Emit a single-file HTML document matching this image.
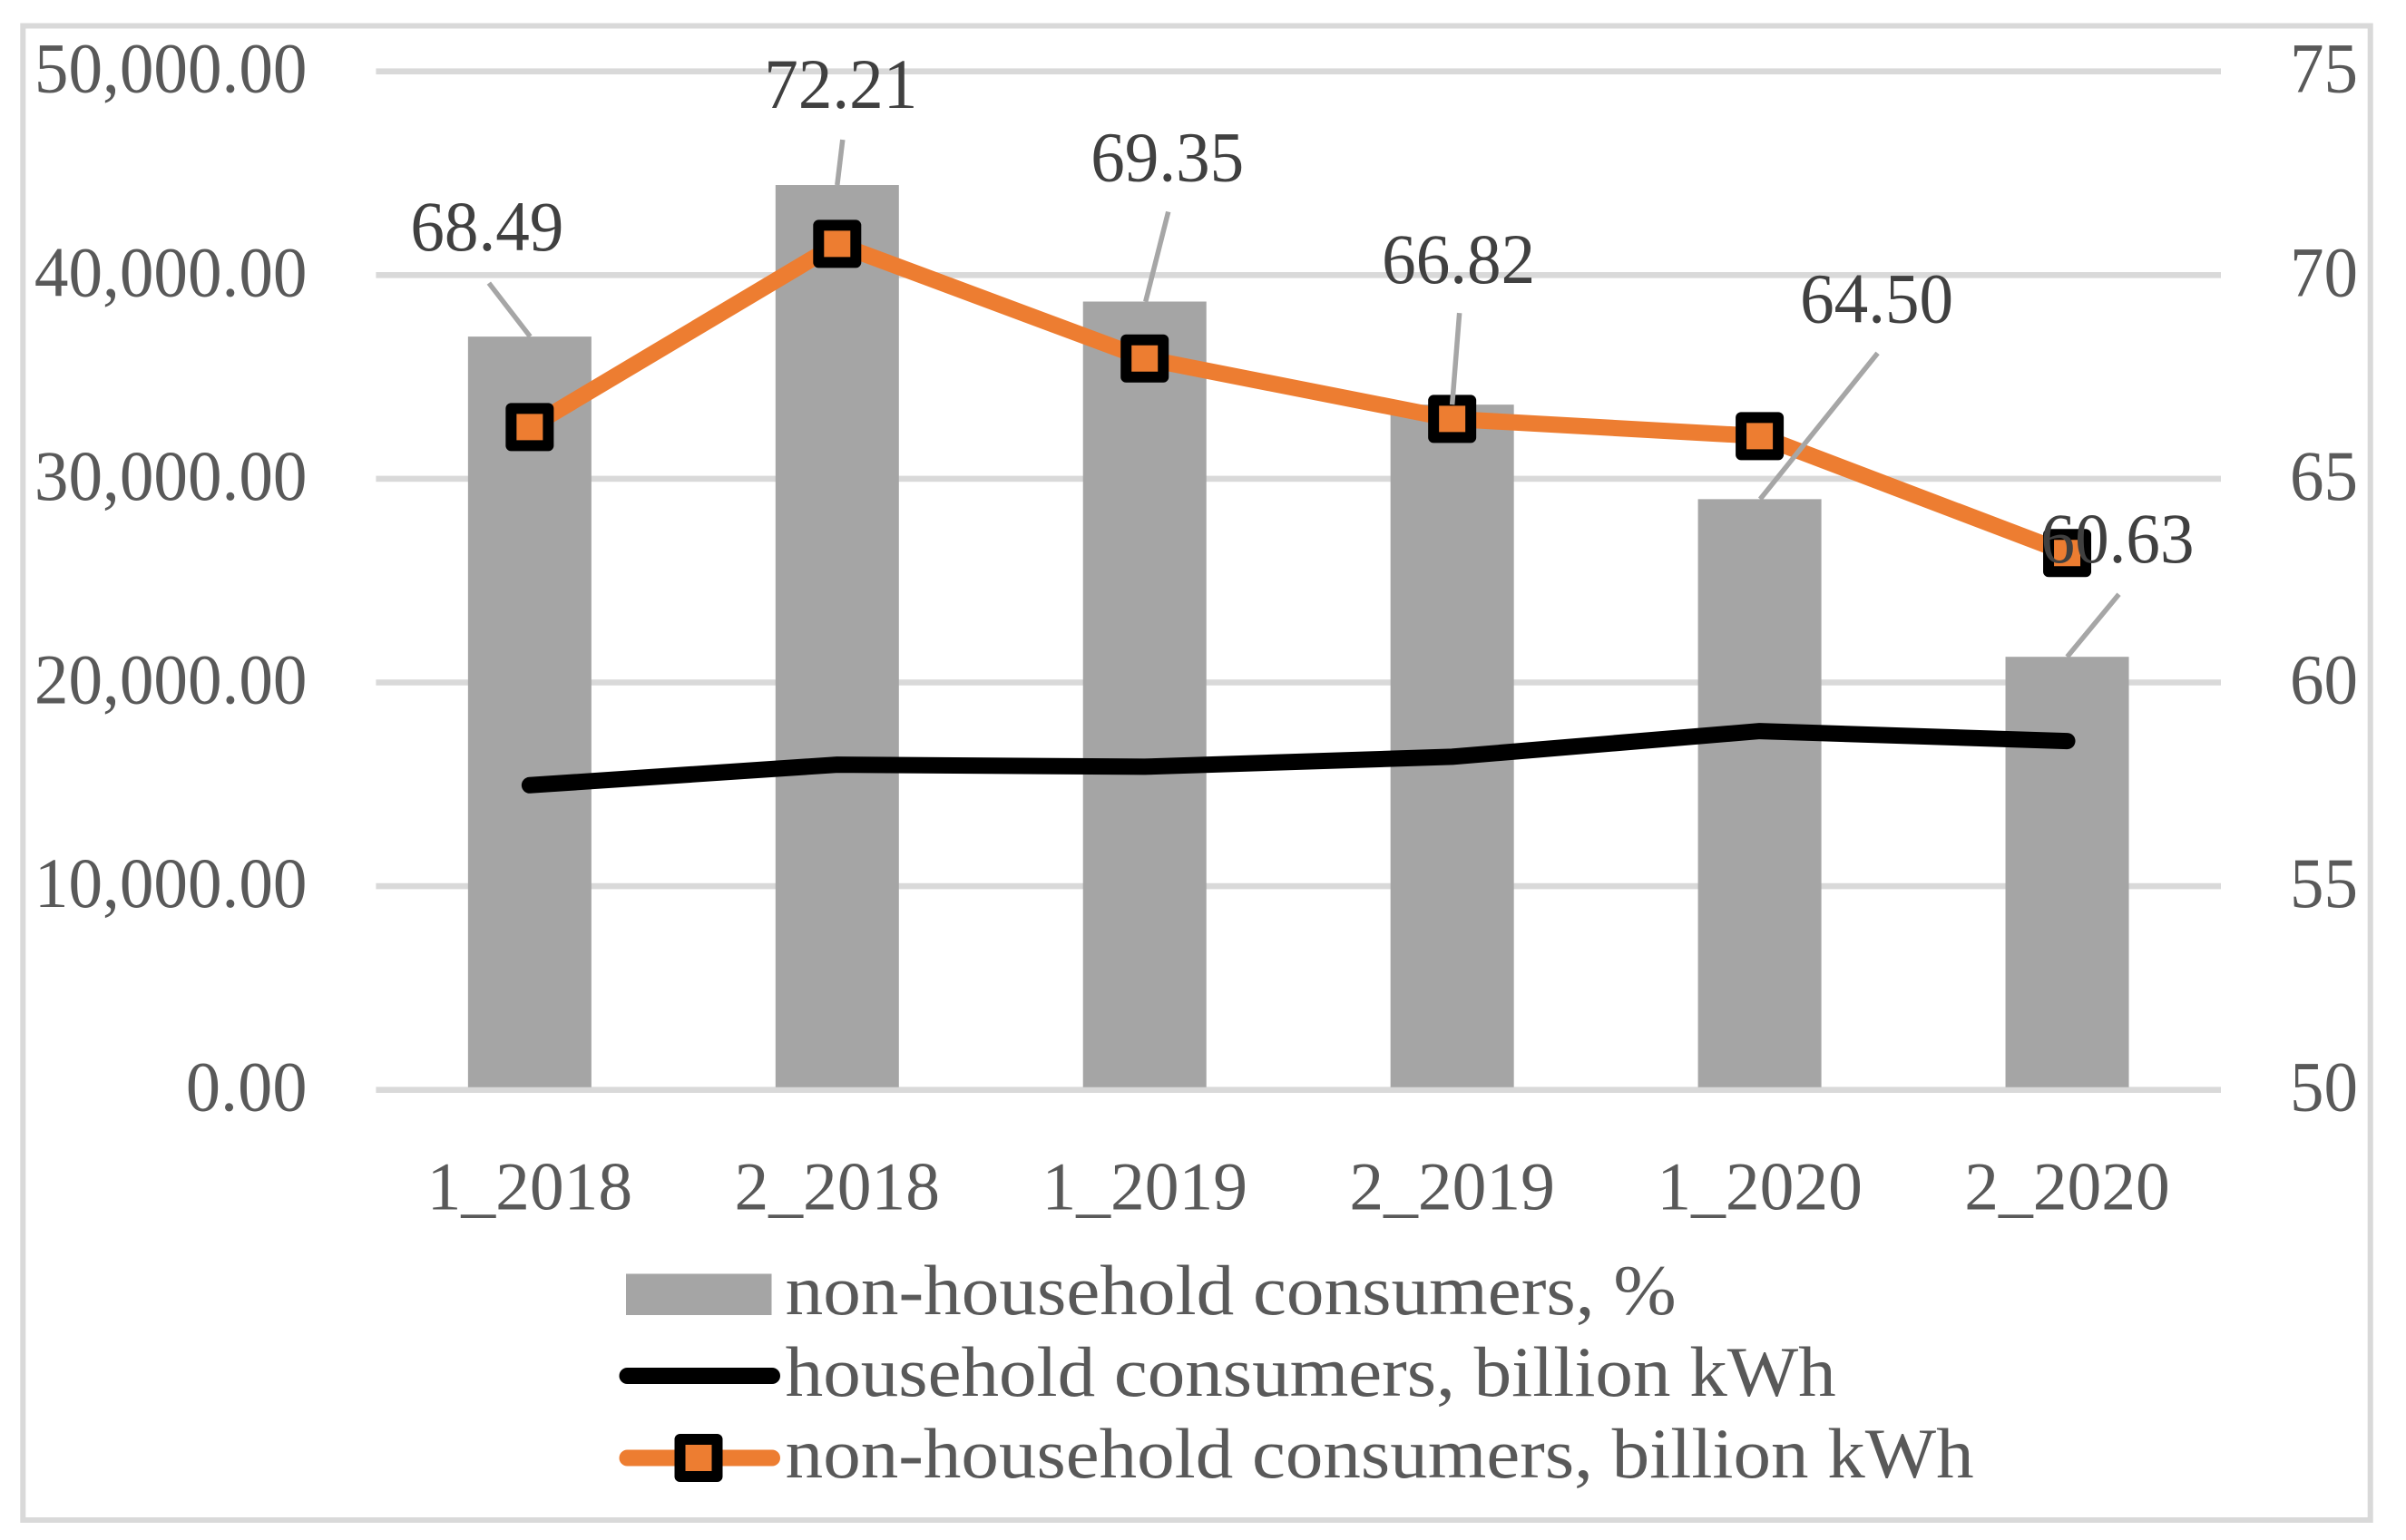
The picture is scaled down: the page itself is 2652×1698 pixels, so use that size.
<!DOCTYPE html>
<html lang="en">
<head>
<meta charset="utf-8">
<title>Electricity consumption chart</title>
<style>
html,body{margin:0;padding:0;background:#fff;}
svg{display:block;}
text{font-family:"Liberation Serif",serif;}
</style>
</head>
<body>
<svg id="chart" xmlns="http://www.w3.org/2000/svg" width="2652" height="1698" viewBox="0 0 2652 1698">
  <rect x="0" y="0" width="2652" height="1698" fill="#ffffff"/>
  <rect x="25.3" y="28.5" width="2587.4" height="1647.5" fill="#ffffff" stroke="#d9d9d9" stroke-width="6"/>
  <g id="grid"></g>
  <g id="bars"></g>
  <g id="lines"></g>
  <g id="markers"></g>
  <g id="leaders"></g>
  <g id="labels"></g>
  <g id="axes"></g>
  <g>
    <g>
      <rect x="690" y="1404.5" width="160.5" height="45.5" fill="#a5a5a5"/>
      <text x="865.7" y="1449" font-size="78" fill="#595959" textLength="982" lengthAdjust="spacingAndGlyphs">non-household consumers, %</text>
    </g>
    <g>
      <line x1="691.5" y1="1517" x2="851" y2="1517" stroke="#000000" stroke-width="18" stroke-linecap="round"/>
      <text x="865.7" y="1539" font-size="78" fill="#595959" textLength="1158" lengthAdjust="spacingAndGlyphs">household consumers, billion kWh</text>
    </g>
    <g>
      <line x1="691.5" y1="1607.5" x2="851" y2="1607.5" stroke="#ed7d31" stroke-width="18" stroke-linecap="round"/>
      <rect x="749.5" y="1587" width="41" height="41" fill="#ed7d31" stroke="#000000" stroke-width="12" stroke-linejoin="round"/>
      <text x="865.7" y="1629" font-size="78" fill="#595959" textLength="1310" lengthAdjust="spacingAndGlyphs">non-household consumers, billion kWh</text>
    </g>
  </g>
</svg>
<script>
const categories = ['1_2018', '2_2018', '1_2019', '2_2019', '1_2020', '2_2020'];
const percentValues = [68.49, 72.21, 69.35, 66.82, 64.50, 60.63];
const householdValues = [14956, 15966, 15865, 16354, 17614, 17125];
const nonHouseholdValues = [32537, 41530, 35908, 32937, 32095, 26354];
const leftTicks = [0, 10000, 20000, 30000, 40000, 50000];
const rightTicks = [50, 55, 60, 65, 70, 75];

// label placement, relative to each bar's top-centre: [label dx, label dy, leader-top dx, leader-top dy, leader-foot dx]
const labelOffsets = [
  [-47, -95, -45, -59, 0.5],
  [4, -85, 6, -50, 0],
  [25, -133, 26, -99, 1],
  [7, -134, 8, -101, 0],
  [129, -195, 130, -161, 0.5],
  [55.5, -104, 57, -69, 0]
];

const NS = 'http://www.w3.org/2000/svg';
const plotLeft = 414.4, plotRight = 2448, plotTop = 78.7, plotBottom = 1201.7;
const barWidth = 136;
const xBand = (plotRight - plotLeft) / categories.length;
function xAxis(i) { return plotLeft + xBand * (i + 0.5); }
function yLeft(v) { return plotBottom - (v - leftTicks[0]) / (leftTicks[leftTicks.length - 1] - leftTicks[0]) * (plotBottom - plotTop); }
function yRight(v) { return plotBottom - (v - rightTicks[0]) / (rightTicks[rightTicks.length - 1] - rightTicks[0]) * (plotBottom - plotTop); }
function fmtLeft(v) { return v.toLocaleString('en-US', { minimumFractionDigits: 2, maximumFractionDigits: 2 }); }

function mk(parent, tag, attrs, content) {
  const el = document.createElementNS(NS, tag);
  for (const k in attrs) { el.setAttribute(k, attrs[k]); }
  if (content !== undefined) { el.textContent = content; }
  document.getElementById(parent).appendChild(el);
  return el;
}

leftTicks.forEach(function (t, i) {
  const y = yLeft(t);
  const line = mk('grid', 'line', { x1: plotLeft, x2: plotRight, y1: y, y2: y, stroke: '#d9d9d9', 'stroke-width': 6.6 });
  
  
  const str = fmtLeft(t);
  const label = mk('axes', 'text', { x: 338.5, y: y + 23, 'font-size': 78, fill: '#595959', 'text-anchor': 'end', textLength: str.length * 33.4, lengthAdjust: 'spacingAndGlyphs' }, str);
  
  
});

rightTicks.forEach(function (t) {
  const label = mk('axes', 'text', { x: 2599, y: yRight(t) + 23, 'font-size': 78, fill: '#595959', 'text-anchor': 'end', textLength: 75, lengthAdjust: 'spacingAndGlyphs' }, String(t));
  
  
});

categories.forEach(function (c, i) {
  const label = mk('axes', 'text', { x: xAxis(i), y: 1333.5, 'font-size': 75.5, fill: '#595959', 'text-anchor': 'middle' }, c);
  
  
});

percentValues.forEach(function (v, i) {
  const y = yRight(v);
  const bar = mk('bars', 'rect', { x: xAxis(i) - barWidth / 2, y: y, width: barWidth, height: plotBottom - 3 - y, fill: '#a5a5a5' });
  
  
});

const householdPts = householdValues.map(function (v, i) { return xAxis(i) + ',' + yLeft(v); }).join(' ');
const householdLine = mk('lines', 'polyline', { points: householdPts, fill: 'none', stroke: '#000000', 'stroke-width': 18, 'stroke-linecap': 'round', 'stroke-linejoin': 'round' });



const nonHouseholdPts = nonHouseholdValues.map(function (v, i) { return xAxis(i) + ',' + yLeft(v); }).join(' ');
const nonHouseholdLine = mk('lines', 'polyline', { points: nonHouseholdPts, fill: 'none', stroke: '#ed7d31', 'stroke-width': 18, 'stroke-linecap': 'round', 'stroke-linejoin': 'round' });



nonHouseholdValues.forEach(function (v, i) {
  const marker = mk('markers', 'rect', { x: xAxis(i) - 20.5, y: yLeft(v) - 20.5, width: 41, height: 41, fill: '#ed7d31', stroke: '#000000', 'stroke-width': 12, 'stroke-linejoin': 'round' });
  
  
});

percentValues.forEach(function (v, i) {
  const off = labelOffsets[i];
  const cx = xAxis(i), top = yRight(v);
  const leader = mk('leaders', 'line', { x1: cx + off[4], y1: top, x2: cx + off[2], y2: top + off[3], stroke: '#a6a6a6', 'stroke-width': 5.5 });
  
  
  const label = mk('labels', 'text', { x: cx + off[0], y: top + off[1], 'font-size': 78, fill: '#404040', 'text-anchor': 'middle', textLength: 169, lengthAdjust: 'spacingAndGlyphs' }, v.toFixed(2));
  
  
});
</script>
</body>
</html>
